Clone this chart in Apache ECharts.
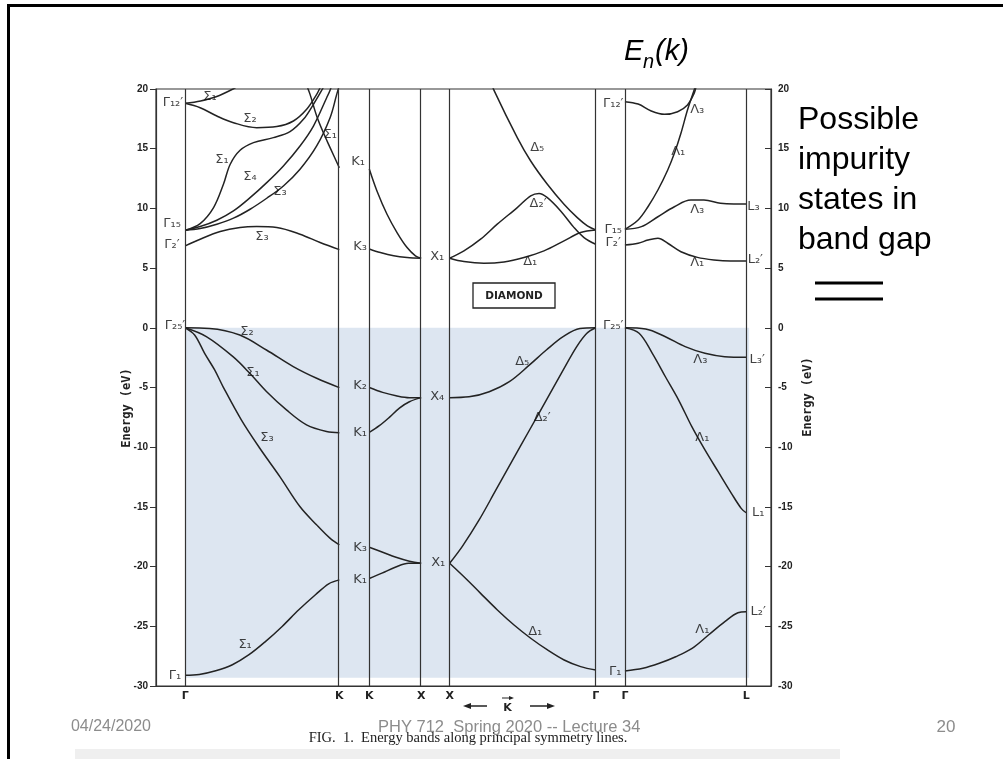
<!DOCTYPE html>
<html><head><meta charset="utf-8">
<script src="https://cdn.jsdelivr.net/npm/echarts@6/dist/echarts.min.js"></script>
<style>html,body{margin:0;padding:0;background:#fff}#c{width:1003px;height:759px}</style>
</head><body><div id="c"></div>
<script>
// symmetry points along the k path (units of 2π/a, with 0.2 gaps between panels)
const kNames = ['Γ','K','K','X','X','Γ','Γ','L'];
const kPos = [0.2, 1.255, 1.46, 1.815, 2.01, 3.01, 3.21, 4.04];
const energyTicks = { min: -30, max: 20, step: 5 };

// bands: [fraction along segment, energy eV]
// segment 0: Γ→K (Σ)
const gk_s1_top = [[0,18.8],[0.1,19.0],[0.2,19.35],[0.31,20.0],[0.36,20.4]];
const gk_s2 = [[0,18.8],[0.097,18.43],[0.205,17.74],[0.313,17.18],[0.464,16.76],[0.594,16.85],[0.702,17.32],[0.788,18.3],[0.853,19.55],[0.875,20.1],[0.89,20.5]];
const gk_s1_up = [[0,8.17],[0.097,8.73],[0.184,10.07],[0.248,12.02],[0.292,13.7],[0.356,14.87],[0.443,15.51],[0.572,15.93],[0.68,16.43],[0.767,17.46],[0.832,18.72],[0.886,19.9],[0.907,20.4]];
const gk_s4 = [[0,8.17],[0.097,8.48],[0.205,9.01],[0.313,9.79],[0.421,10.9],[0.529,12.16],[0.637,13.56],[0.745,15.23],[0.832,16.9],[0.918,19.27],[0.94,19.9],[0.961,20.7]];
const gk_s3_up = [[0,8.17],[0.097,8.31],[0.205,8.67],[0.313,9.18],[0.421,9.93],[0.529,10.85],[0.637,11.88],[0.745,13.28],[0.853,15.23],[0.94,17.6],[0.983,19.55],[1.0,20.3]];
const gk_s1_down = [[0.788,20.3],[0.81,19.55],[0.853,17.74],[0.896,16.35],[0.94,15.09],[1,13.4]];
const gk_s3_low = [[0,6.86],[0.097,7.42],[0.227,8.06],[0.356,8.4],[0.464,8.48],[0.594,8.4],[0.745,7.84],[0.875,7.14],[1,6.55]];
const gk_v_s2 = [[0,0],[0.158,-0.05],[0.354,-0.6],[0.527,-1.86],[0.701,-3.25],[0.853,-4.23],[1,-5.01]];
const gk_v_s1 = [[0,0],[0.137,-0.74],[0.31,-2.42],[0.419,-3.81],[0.527,-5.34],[0.657,-6.88],[0.787,-8.13],[0.917,-8.69],[1,-8.78]];
const gk_v_s3 = [[0,0],[0.061,-0.6],[0.126,-2.14],[0.191,-3.53],[0.245,-4.92],[0.364,-7.71],[0.484,-10.09],[0.614,-12.46],[0.744,-14.97],[0.852,-16.5],[0.939,-17.62],[1,-18.18]];
const gk_v_s1_low = [[0,-29.11],[0.091,-29.03],[0.198,-28.72],[0.306,-28.22],[0.414,-27.38],[0.522,-26.26],[0.629,-25.01],[0.737,-23.62],[0.845,-22.36],[0.931,-21.44],[1,-21.11]];
// segment 1: K→X
const kx_k1 = [[0,13.3],[0.148,11.46],[0.342,9.51],[0.535,7.98],[0.729,6.72],[0.89,6.03],[1,5.83]];
const kx_k3 = [[0,6.6],[0.213,6.3],[0.471,6.03],[0.729,5.89],[1,5.83]];
const kx_v_k2 = [[0,-5.0],[0.258,-5.41],[0.516,-5.69],[0.774,-5.85],[1,-5.85]];
const kx_v_k1 = [[0,-8.76],[0.194,-8.2],[0.387,-7.5],[0.581,-6.72],[0.774,-6.19],[1,-5.85]];
const kx_v_k3 = [[0,-18.38],[0.258,-18.8],[0.516,-19.22],[0.774,-19.55],[1,-19.72]];
const kx_v_k1_low = [[0,-21.0],[0.244,-20.55],[0.5,-20.05],[0.756,-19.72],[1,-19.72]];
// segment 2: X→Γ (Δ)
const xg_d1 = [[0,5.83],[0.098,5.55],[0.235,5.41],[0.372,5.52],[0.509,5.89],[0.646,6.44],[0.783,7.28],[0.897,7.98],[1,8.2]];
const xg_d2 = [[0,5.83],[0.098,6.44],[0.212,7.42],[0.326,8.68],[0.463,10.07],[0.555,11.05],[0.612,11.25],[0.669,10.9],[0.76,9.79],[0.852,8.39],[0.92,7.56],[1,7.0]];
const xg_d5 = [[0.281,20.7],[0.304,19.89],[0.463,15.93],[0.555,13.97],[0.669,12.02],[0.783,10.35],[0.874,9.23],[0.943,8.54],[1,8.2]];
const xg_v_d5 = [[0,-5.85],[0.133,-5.78],[0.271,-5.35],[0.409,-4.51],[0.547,-3.11],[0.662,-1.86],[0.777,-0.74],[0.892,-0.06],[1,0]];
const xg_v_d2 = [[0,-19.72],[0.087,-18.3],[0.202,-16.09],[0.317,-13.58],[0.432,-11.07],[0.547,-8.56],[0.662,-6.05],[0.777,-3.54],[0.869,-1.59],[0.938,-0.47],[1,0]];
const xg_v_d1 = [[0,-19.72],[0.121,-21.12],[0.212,-22.24],[0.327,-23.63],[0.441,-24.89],[0.555,-26.0],[0.67,-26.98],[0.784,-27.82],[0.897,-28.38],[1,-28.66]];
// segment 3: Γ→L (Λ)
const gl_l3_up = [[0,18.94],[0.109,18.74],[0.217,18.16],[0.326,17.88],[0.435,18.1],[0.516,18.66],[0.571,19.64],[0.584,20.06],[0.6,20.5]];
const gl_l1_up = [[0,8.25],[0.109,9.03],[0.19,10.14],[0.272,11.54],[0.353,13.22],[0.408,14.61],[0.462,16.29],[0.516,18.24],[0.571,19.92],[0.598,20.75]];
const gl_l3 = [[0,8.25],[0.136,8.47],[0.272,9.3],[0.408,10.14],[0.543,10.7],[0.652,10.7],[0.788,10.43],[0.897,10.37],[1,10.37]];
const gl_l1 = [[0,6.93],[0.109,7.08],[0.19,7.35],[0.272,7.5],[0.353,7.08],[0.462,6.37],[0.598,5.9],[0.734,5.68],[0.87,5.59],[1,5.59]];
const gl_v_l3 = [[0,0],[0.171,-0.1],[0.334,-0.75],[0.497,-1.58],[0.66,-2.14],[0.823,-2.42],[1,-2.47]];
const gl_v_l1 = [[0,0],[0.117,-0.46],[0.226,-2.14],[0.334,-4.1],[0.443,-6.05],[0.552,-8.28],[0.66,-10.23],[0.769,-12.05],[0.878,-13.86],[0.959,-15.12],[1,-15.49]];
const gl_v_l1_low = [[0,-28.74],[0.149,-28.52],[0.284,-28.1],[0.419,-27.55],[0.554,-26.85],[0.689,-25.73],[0.824,-24.61],[0.932,-23.86],[1,-23.78]];

const bandList = [
  [0,gk_s1_top],[0,gk_s2],[0,gk_s1_up],[0,gk_s4],[0,gk_s3_up],[0,gk_s1_down],[0,gk_s3_low],
  [0,gk_v_s2],[0,gk_v_s1],[0,gk_v_s3],[0,gk_v_s1_low],
  [1,kx_k1],[1,kx_k3],[1,kx_v_k2],[1,kx_v_k1],[1,kx_v_k3],[1,kx_v_k1_low],
  [2,xg_d1],[2,xg_d2],[2,xg_d5],[2,xg_v_d5],[2,xg_v_d2],[2,xg_v_d1],
  [3,gl_l3_up],[3,gl_l1_up],[3,gl_l3],[3,gl_l1],[3,gl_v_l3],[3,gl_v_l1],[3,gl_v_l1_low]
];

// occupied (valence) region shading: energies
const valenceTop = 0, valenceBottom = -29.3;

// band labels [k, E, text]
const bandLabels = [
[0.116,18.9,'Γ₁₂′'],[0.37,19.33,'Σ₁'],[0.644,17.5,'Σ₂'],[0.452,14.06,'Σ₁'],[0.644,12.63,'Σ₄'],
[0.849,11.38,'Σ₃'],[1.192,16.15,'Σ₁'],[0.11,8.69,'Γ₁₅'],[0.11,6.93,'Γ₂′'],[0.726,7.6,'Σ₃'],
[1.384,13.88,'K₁'],[1.397,6.77,'K₃'],[1.925,5.93,'X₁'],[2.61,15.06,'Δ₅'],[2.616,10.44,'Δ₂′'],
[2.562,5.51,'Δ₁'],[3.13,18.8,'Γ₁₂′'],[3.13,8.19,'Γ₁₅'],[3.13,7.1,'Γ₂′'],[3.705,18.24,'Λ₃'],
[3.575,14.72,'Λ₁'],[3.705,9.87,'Λ₃'],[3.705,5.43,'Λ₁'],[4.09,10.12,'L₃'],[4.103,5.68,'L₂′'],
[0.13,0.15,'Γ₂₅′'],[0.623,-0.35,'Σ₂'],[0.664,-3.78,'Σ₁'],[0.76,-9.23,'Σ₃'],[1.397,-4.84,'K₂'],
[1.397,-8.78,'K₁'],[1.397,-18.41,'K₃'],[1.397,-21.09,'K₁'],[1.925,-5.8,'X₄'],[1.932,-19.7,'X₁'],
[2.507,-2.87,'Δ₅'],[2.644,-7.56,'Δ₂′'],[3.13,0.15,'Γ₂₅′'],[3.726,-2.7,'Λ₃'],[3.74,-9.23,'Λ₁'],
[4.116,-2.7,'L₃′'],[4.123,-15.5,'L₁'],[0.61,-26.57,'Σ₁'],[0.13,-29.1,'Γ₁'],[2.596,-25.48,'Δ₁'],
[3.144,-28.83,'Γ₁'],[3.74,-25.3,'Λ₁'],[4.123,-23.8,'L₂′']
];

function toK(seg, t) { const a = kPos[2*seg], b = kPos[2*seg+1]; return a + t*(b-a); }

const chart = echarts.init(document.getElementById('c'), null, {renderer:'canvas'});
const lineCol = '#232323';
const series = [];
series.push({
  type:'line', data:[[kPos[0],0]], showSymbol:false, lineStyle:{opacity:0}, z:1, silent:true,
  markArea:{silent:true, itemStyle:{color:'#dde6f1'},
    data:[[{coord:[kPos[0], valenceTop]},{coord:[kPos[7]+0.02, valenceBottom]}]]}
});
series.push({
  type:'line', data:[[kPos[0],0]], showSymbol:false, lineStyle:{opacity:0}, z:2, silent:true,
  markLine:{silent:true, symbol:['none','none'], label:{show:false},
    lineStyle:{color:'#333', width:1.2, type:'solid'},
    data:kPos.map(k => ({xAxis:k}))}
});
bandList.forEach(([seg, pts]) => {
  series.push({
    type:'line', smooth:0.35, showSymbol:false, silent:true, z:3, clip:true,
    lineStyle:{color:lineCol, width:1.5},
    data: pts.map(([t,e]) => [toK(seg,t), e])
  });
});
series.push({
  type:'scatter', symbolSize:1, itemStyle:{color:'rgba(0,0,0,0)'}, z:4, silent:true,
  data: bandLabels.map(l => ({name:l[2], value:[l[0], l[1]]})),
  label:{show:true, position:'inside', formatter:'{b}', fontSize:13, color:'#111', fontFamily:'DejaVu Sans'},
  labelLayout:{hideOverlap:false}
});

const axisFont = {fontSize:10, fontWeight:'bold', color:'#222', fontFamily:'Liberation Sans'};
const option = {
  animation:false,
  grid:{left:156, right:232, top:89, bottom:73, show:true, borderColor:'#333', borderWidth:1.2, backgroundColor:'transparent'},
  xAxis:{type:'value', min:0, max:4.21,
    axisLine:{show:true, onZero:false, lineStyle:{color:'#333', width:1.2}}, axisTick:{show:false}, splitLine:{show:false},
    axisLabel:{customValues:kPos, margin:5, fontSize:11, fontWeight:'bold', color:'#222', fontFamily:'DejaVu Sans',
      formatter: v => { const i = kPos.findIndex(k => Math.abs(k - v) < 1e-6); return i >= 0 ? kNames[i] : ''; }}},
  yAxis:[
    {type:'value', min:energyTicks.min, max:energyTicks.max, interval:energyTicks.step, position:'left',
     axisLine:{show:true, onZero:false, lineStyle:{color:'#333', width:1.2}}, axisTick:{show:true, length:6, lineStyle:{color:'#333'}},
     splitLine:{show:false}, axisLabel:Object.assign({margin:8}, axisFont)},
    {type:'value', min:energyTicks.min, max:energyTicks.max, interval:energyTicks.step, position:'right',
     axisLine:{show:true, onZero:false, lineStyle:{color:'#333', width:1.2}}, axisTick:{show:true, inside:true, length:6, lineStyle:{color:'#333'}},
     splitLine:{show:false}, axisLabel:Object.assign({margin:7}, axisFont)}
  ],
  series: series,
  graphic:[
    {type:'rect', shape:{x:7, y:4, width:996, height:3}, style:{fill:'#000'}},
    {type:'rect', shape:{x:7, y:4, width:3, height:755}, style:{fill:'#000'}},
    {type:'rect', shape:{x:75, y:749, width:765, height:10}, style:{fill:'#efefef'}, z:-1},
    {type:'text', x:624, y:52, style:{text:'E', fontSize:29, fontStyle:'italic', fontFamily:'Liberation Sans', fill:'#000', verticalAlign:'middle'}},
    {type:'text', x:643, y:62, style:{text:'n', fontSize:20, fontStyle:'italic', fontFamily:'Liberation Sans', fill:'#000', verticalAlign:'middle'}},
    {type:'text', x:655, y:52, style:{text:'(k)', fontSize:29, fontStyle:'italic', fontFamily:'Liberation Sans', fill:'#000', verticalAlign:'middle'}},
    {type:'text', x:798, y:100, style:{text:'Possible\nimpurity\nstates in\nband gap', fontSize:32, lineHeight:40, fontFamily:'Liberation Sans', fill:'#000', verticalAlign:'top'}},
    {type:'rect', shape:{x:815, y:281.5, width:68, height:3}, style:{fill:'#000'}},
    {type:'rect', shape:{x:815, y:297.5, width:68, height:3}, style:{fill:'#000'}},
    {type:'text', x:127, y:408, rotation:Math.PI/2, style:{text:'Energy (eV)', fontSize:12, fontWeight:'bold', fontFamily:'DejaVu Sans Mono', fill:'#222', align:'center', verticalAlign:'middle'}},
    {type:'text', x:808, y:397, rotation:Math.PI/2, style:{text:'Energy (eV)', fontSize:12, fontWeight:'bold', fontFamily:'DejaVu Sans Mono', fill:'#222', align:'center', verticalAlign:'middle'}},
    {type:'rect', shape:{x:473, y:283, width:82, height:25}, style:{fill:'#fff', stroke:'#222', lineWidth:1.3}},
    {type:'text', x:514, y:296, style:{text:'DIAMOND', fontSize:10.5, fontWeight:'bold', fontFamily:'DejaVu Sans', fill:'#222', align:'center', verticalAlign:'middle'}},
    {type:'line', shape:{x1:468, y1:706, x2:487, y2:706}, style:{stroke:'#222', lineWidth:1.5}},
    {type:'polygon', shape:{points:[[463,706],[471,703],[471,709]]}, style:{fill:'#222'}},
    {type:'line', shape:{x1:530, y1:706, x2:550, y2:706}, style:{stroke:'#222', lineWidth:1.5}},
    {type:'polygon', shape:{points:[[555,706],[547,703],[547,709]]}, style:{fill:'#222'}},
    {type:'text', x:507.5, y:708, style:{text:'K', fontSize:11, fontWeight:'bold', fontFamily:'DejaVu Sans', fill:'#222', align:'center', verticalAlign:'middle'}},
    {type:'line', shape:{x1:502, y1:698, x2:511, y2:698}, style:{stroke:'#222', lineWidth:1}},
    {type:'polygon', shape:{points:[[514,698],[509,696],[509,700]]}, style:{fill:'#222'}},
    {type:'text', x:151, y:727, style:{text:'04/24/2020', fontSize:16, fontFamily:'Liberation Sans', fill:'#8c8c8c', align:'right', verticalAlign:'middle'}},
    {type:'text', x:378, y:727, style:{text:'PHY 712  Spring 2020 -- Lecture 34', fontSize:16.5, fontFamily:'Liberation Sans', fill:'#8c8c8c', align:'left', verticalAlign:'middle'}},
    {type:'text', x:946, y:727, style:{text:'20', fontSize:17, fontFamily:'Liberation Sans', fill:'#8c8c8c', align:'center', verticalAlign:'middle'}},
    {type:'text', x:468, y:738, style:{text:'FIG.  1.  Energy bands along principal symmetry lines.', fontSize:14.5, fontFamily:'Liberation Serif', fill:'#222', align:'center', verticalAlign:'middle'}}
  ]
};
chart.setOption(option);
</script>
</body></html>
